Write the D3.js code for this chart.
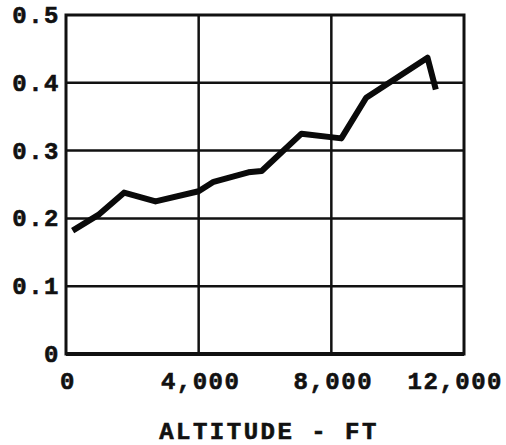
<!DOCTYPE html>
<html><head><meta charset="utf-8">
<script src="https://cdn.jsdelivr.net/npm/d3@7"></script>
<style>
html,body{margin:0;padding:0;background:#fff;}
svg{display:block;}
text{font-family:"Liberation Mono","DejaVu Sans Mono",monospace;font-weight:bold;fill:#111;stroke:#111;stroke-width:0.6px;}
</style></head>
<body>
<script>
const altitude = [200, 1000, 1750, 2700, 4000, 4450, 5500, 5900, 7100, 8300, 9050, 10900, 11150];
const values   = [0.182, 0.206, 0.238, 0.225, 0.240, 0.254, 0.268, 0.270, 0.325, 0.318, 0.378, 0.437, 0.390];
const xTicks = [0, 4000, 8000, 12000];
const xTickLabels = ["0", "4,000", "8,000", "12,000"];
const yTicks = [0, 0.1, 0.2, 0.3, 0.4, 0.5];
const yTickLabels = ["0", "0.1", "0.2", "0.3", "0.4", "0.5"];
const xTitle = "ALTITUDE - FT";

const W = 506, H = 445;
const svg = d3.select("body").append("svg").attr("width", W).attr("height", H);
const x = d3.scaleLinear().domain([0, 12000]).range([66, 464]);
const y = d3.scaleLinear().domain([0, 0.5]).range([354, 15]);

// grid
svg.append("g").selectAll("line.h").data(yTicks.slice(1, -1)).join("line")
  .attr("x1", x(0)).attr("x2", x(12000)).attr("y1", d => y(d)).attr("y2", d => y(d))
  .attr("stroke", "#111").attr("stroke-width", 2.5);
svg.append("g").selectAll("line.v").data(xTicks.slice(1, -1)).join("line")
  .attr("y1", y(0)).attr("y2", y(0.5)).attr("x1", d => x(d)).attr("x2", d => x(d))
  .attr("stroke", "#111").attr("stroke-width", 2.5);

// frame
svg.append("rect").attr("x", x(0)).attr("y", y(0.5))
  .attr("width", x(12000) - x(0)).attr("height", y(0) - y(0.5))
  .attr("fill", "none").attr("stroke", "#111").attr("stroke-width", 3);
svg.append("line").attr("x1", x(0)).attr("x2", x(12000)).attr("y1", y(0)).attr("y2", y(0))
  .attr("stroke", "#111").attr("stroke-width", 4);

// data line
const pts = altitude.map((a, i) => [a, values[i]]);
svg.append("path").datum(pts)
  .attr("d", d3.line().x(d => x(d[0])).y(d => y(d[1])))
  .attr("fill", "none").attr("stroke", "#0a0a0a").attr("stroke-width", 6)
  .attr("stroke-linejoin", "round").attr("stroke-linecap", "butt");

// y tick labels
svg.append("g").selectAll("text").data(yTicks).join("text")
  .attr("x", 60).attr("y", d => y(d) + 8)
  .attr("text-anchor", "end").style("font-size", "24px").style("letter-spacing", "1.5px")
  .text((d, i) => yTickLabels[i]);

// x tick labels
svg.append("g").selectAll("text").data(xTicks).join("text")
  .attr("x", (d, i) => i === xTicks.length - 1 ? 503 : x(d) + 2)
  .attr("y", 389)
  .attr("text-anchor", (d, i) => i === xTicks.length - 1 ? "end" : "middle")
  .style("font-size", "24px").style("letter-spacing", "1.5px")
  .text((d, i) => xTickLabels[i]);

// axis title
svg.append("text").attr("x", 269).attr("y", 439).attr("text-anchor", "middle")
  .style("font-size", "24px").style("letter-spacing", "2.5px").text(xTitle);
</script>
</body></html>
